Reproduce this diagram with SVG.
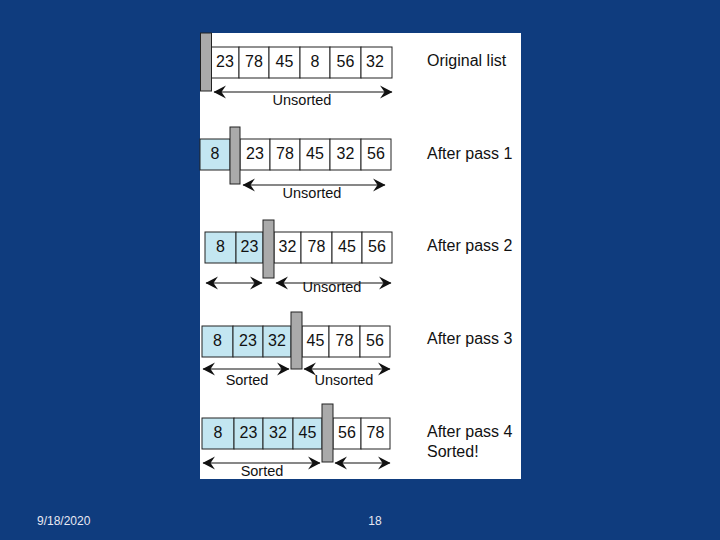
<svg xmlns="http://www.w3.org/2000/svg" width="720" height="540" viewBox="0 0 720 540">
<style>
.cell{fill:#ffffff;stroke:#222;stroke-width:1}
.sorted{fill:#c3e6f1;stroke:#222;stroke-width:1}
.bar{fill:#aaaaaa;stroke:#222;stroke-width:1}
.num{font-family:"Liberation Sans",Arial,sans-serif;font-size:16px;fill:#111;text-anchor:middle}
.lbl{font-family:"Liberation Sans",Arial,sans-serif;font-size:16px;fill:#111}
.sm{font-family:"Liberation Sans",Arial,sans-serif;font-size:14.5px;fill:#111;text-anchor:middle}
.foot{font-family:"Liberation Sans",Arial,sans-serif;font-size:12px;fill:#e8e8f2}
.arr{stroke:#111;stroke-width:1.2;fill:none;marker-start:url(#ah);marker-end:url(#ah)}
</style>
<defs>
<marker id="ah" markerUnits="userSpaceOnUse" markerWidth="14" markerHeight="14" refX="12" refY="7" orient="auto-start-reverse">
<path d="M0,0.5 L12.5,7 L0,13.5 L4.5,7 Z" fill="#111"/>
</marker>
</defs>
<rect x="0" y="0" width="720" height="540" fill="#0f3c7e"/>
<rect id="panel" x="200" y="33" width="321" height="446" fill="#ffffff"/>

<g id="row1">
<rect class="cell" x="211" y="47" width="28" height="31"/>
<rect class="cell" x="239" y="47" width="30" height="31"/>
<rect class="cell" x="269" y="47" width="31" height="31"/>
<rect class="cell" x="300" y="47" width="30" height="31"/>
<rect class="cell" x="330" y="47" width="31" height="31"/>
<rect class="cell" x="361" y="47" width="31" height="31"/>
<rect class="bar" x="200.5" y="33" width="11" height="58"/>
<text class="num" x="225" y="67">23</text>
<text class="num" x="254" y="67">78</text>
<text class="num" x="284.5" y="67">45</text>
<text class="num" x="315" y="67">8</text>
<text class="num" x="345.5" y="67">56</text>
<text class="num" x="375" y="67">32</text>
<text class="lbl" x="427" y="66">Original list</text>
<text class="sm" x="302" y="105">Unsorted</text>
</g>

<g id="row2">
<rect class="sorted" x="200" y="139" width="30" height="31"/>
<rect class="cell" x="240" y="139" width="30" height="31"/>
<rect class="cell" x="270" y="139" width="30" height="31"/>
<rect class="cell" x="300" y="139" width="30" height="31"/>
<rect class="cell" x="330" y="139" width="31" height="31"/>
<rect class="cell" x="361" y="139" width="30" height="31"/>
<rect class="bar" x="230" y="127" width="10" height="57"/>
<text class="num" x="215" y="159">8</text>
<text class="num" x="255" y="159">23</text>
<text class="num" x="285" y="159">78</text>
<text class="num" x="315" y="159">45</text>
<text class="num" x="345.5" y="159">32</text>
<text class="num" x="376" y="159">56</text>
<text class="lbl" x="427" y="159">After pass 1</text>
<text class="sm" x="312" y="198">Unsorted</text>
</g>

<g id="row3">
<rect class="sorted" x="205" y="232" width="31" height="31"/>
<rect class="sorted" x="236" y="232" width="27" height="31"/>
<rect class="cell" x="274" y="232" width="27" height="31"/>
<rect class="cell" x="301" y="232" width="31" height="31"/>
<rect class="cell" x="332" y="232" width="30" height="31"/>
<rect class="cell" x="362" y="232" width="30" height="31"/>
<rect class="bar" x="263" y="220" width="11" height="58"/>
<text class="num" x="220.5" y="252">8</text>
<text class="num" x="249.5" y="252">23</text>
<text class="num" x="287.5" y="252">32</text>
<text class="num" x="316.5" y="252">78</text>
<text class="num" x="347" y="252">45</text>
<text class="num" x="377" y="252">56</text>
<text class="lbl" x="427" y="251">After pass 2</text>
<text class="sm" x="332" y="292">Unsorted</text>
</g>

<g id="row4">
<rect class="sorted" x="202" y="326" width="31" height="31"/>
<rect class="sorted" x="233" y="326" width="30" height="31"/>
<rect class="sorted" x="263" y="326" width="28" height="31"/>
<rect class="cell" x="302" y="326" width="27" height="31"/>
<rect class="cell" x="329" y="326" width="31" height="31"/>
<rect class="cell" x="360" y="326" width="30" height="31"/>
<rect class="bar" x="291" y="312" width="11" height="57"/>
<text class="num" x="217.5" y="346">8</text>
<text class="num" x="248" y="346">23</text>
<text class="num" x="277" y="346">32</text>
<text class="num" x="315.5" y="346">45</text>
<text class="num" x="344.5" y="346">78</text>
<text class="num" x="375" y="346">56</text>
<text class="lbl" x="427" y="344">After pass 3</text>
<text class="sm" x="247" y="385">Sorted</text>
<text class="sm" x="344" y="385">Unsorted</text>
</g>

<g id="row5">
<rect class="sorted" x="202" y="418" width="32" height="31"/>
<rect class="sorted" x="234" y="418" width="29" height="31"/>
<rect class="sorted" x="263" y="418" width="30" height="31"/>
<rect class="sorted" x="293" y="418" width="29" height="31"/>
<rect class="cell" x="333" y="418" width="28" height="31"/>
<rect class="cell" x="361" y="418" width="29" height="31"/>
<rect class="bar" x="322" y="404" width="11" height="58"/>
<text class="num" x="218" y="438">8</text>
<text class="num" x="248.5" y="438">23</text>
<text class="num" x="278" y="438">32</text>
<text class="num" x="307.5" y="438">45</text>
<text class="num" x="347" y="438">56</text>
<text class="num" x="375.5" y="438">78</text>
<text class="lbl" x="427" y="437">After pass 4</text>
<text class="lbl" x="427" y="457">Sorted!</text>
<text class="sm" x="262" y="476">Sorted</text>
</g>

<g id="connectors">
<line class="arr" x1="214" y1="92" x2="392" y2="92"/>
<line class="arr" x1="243" y1="185" x2="385" y2="185"/>
<line class="arr" x1="206" y1="283" x2="262" y2="283"/>
<line class="arr" x1="276" y1="283" x2="391" y2="283"/>
<line class="arr" x1="203" y1="369" x2="289" y2="369"/>
<line class="arr" x1="304" y1="369" x2="390" y2="369"/>
<line class="arr" x1="203" y1="463" x2="320" y2="463"/>
<line class="arr" x1="335" y1="463" x2="390" y2="463"/>
</g>

<g id="footer">
<text class="foot" x="37" y="525">9/18/2020</text>
<text class="foot" x="375" y="525" text-anchor="middle">18</text>
</g>
</svg>
